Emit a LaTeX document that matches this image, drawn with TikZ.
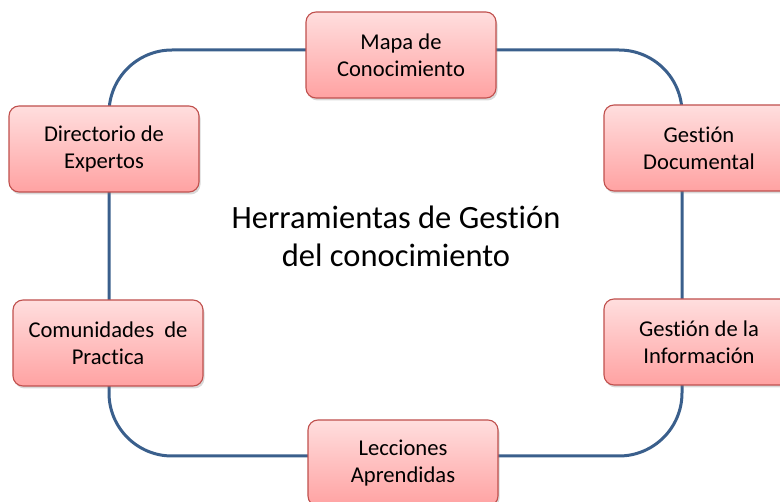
\documentclass[tikz,border=0pt]{standalone}
\usepackage{fontspec}
\setmainfont[Ligatures=NoCommon]{Carlito}
\usepackage{xcolor}
\usetikzlibrary{positioning,shadows}
\definecolor{toolRed}{HTML}{C0504D}
\definecolor{toolTop}{HTML}{FFDEDE}
\definecolor{toolBot}{HTML}{FFA2A2}
\definecolor{ringBlue}{HTML}{3A5F8C}

\begin{document}
\begin{tikzpicture}[
  x=1pt, y=-1pt,
  tool/.style={rectangle, rounded corners=10pt, draw=toolRed, line width=1.1pt,
               top color=toolTop, bottom color=toolBot,
               minimum width=190pt, minimum height=86pt, align=center, inner sep=3pt,
               font=\fontsize{22.6}{27}\selectfont,
               drop shadow={shadow xshift=1.5pt, shadow yshift=-2.5pt, opacity=0.3}},
  ring/.style={line width=3pt, ringBlue, rounded corners=63pt}
]
  \useasboundingbox (0,0) rectangle (780,502);
  \clip (0,0) rectangle (780,502);
  % ring behind the tools
  \coordinate (ringNW) at (109,50);
  \coordinate (ringSE) at (682,456);
  \draw[ring] (ringNW) rectangle (ringSE);
  % tools
  \node[tool] (mapa) at (401,55) {Mapa de\\Conocimiento};
  \node[tool] (docs) at (699,148) {Gestión\\Documental};
  \node[tool] (expertos) at (104,149) {Directorio de\\Expertos};
  \node[tool] (info) at (699,342) {Gestión de la\\Información};
  \node[tool] (comunidades) at (108,343) {Comunidades\ \ de\\Practica};
  \node[tool] (lecciones) at (403,463) {Lecciones\\Aprendidas};
  % title
  \node[align=center, font=\fontsize{32.5}{38}\selectfont] (titulo) at (396,236)
        {Herramientas de Gestión\\del conocimiento};
\end{tikzpicture}
\end{document}
